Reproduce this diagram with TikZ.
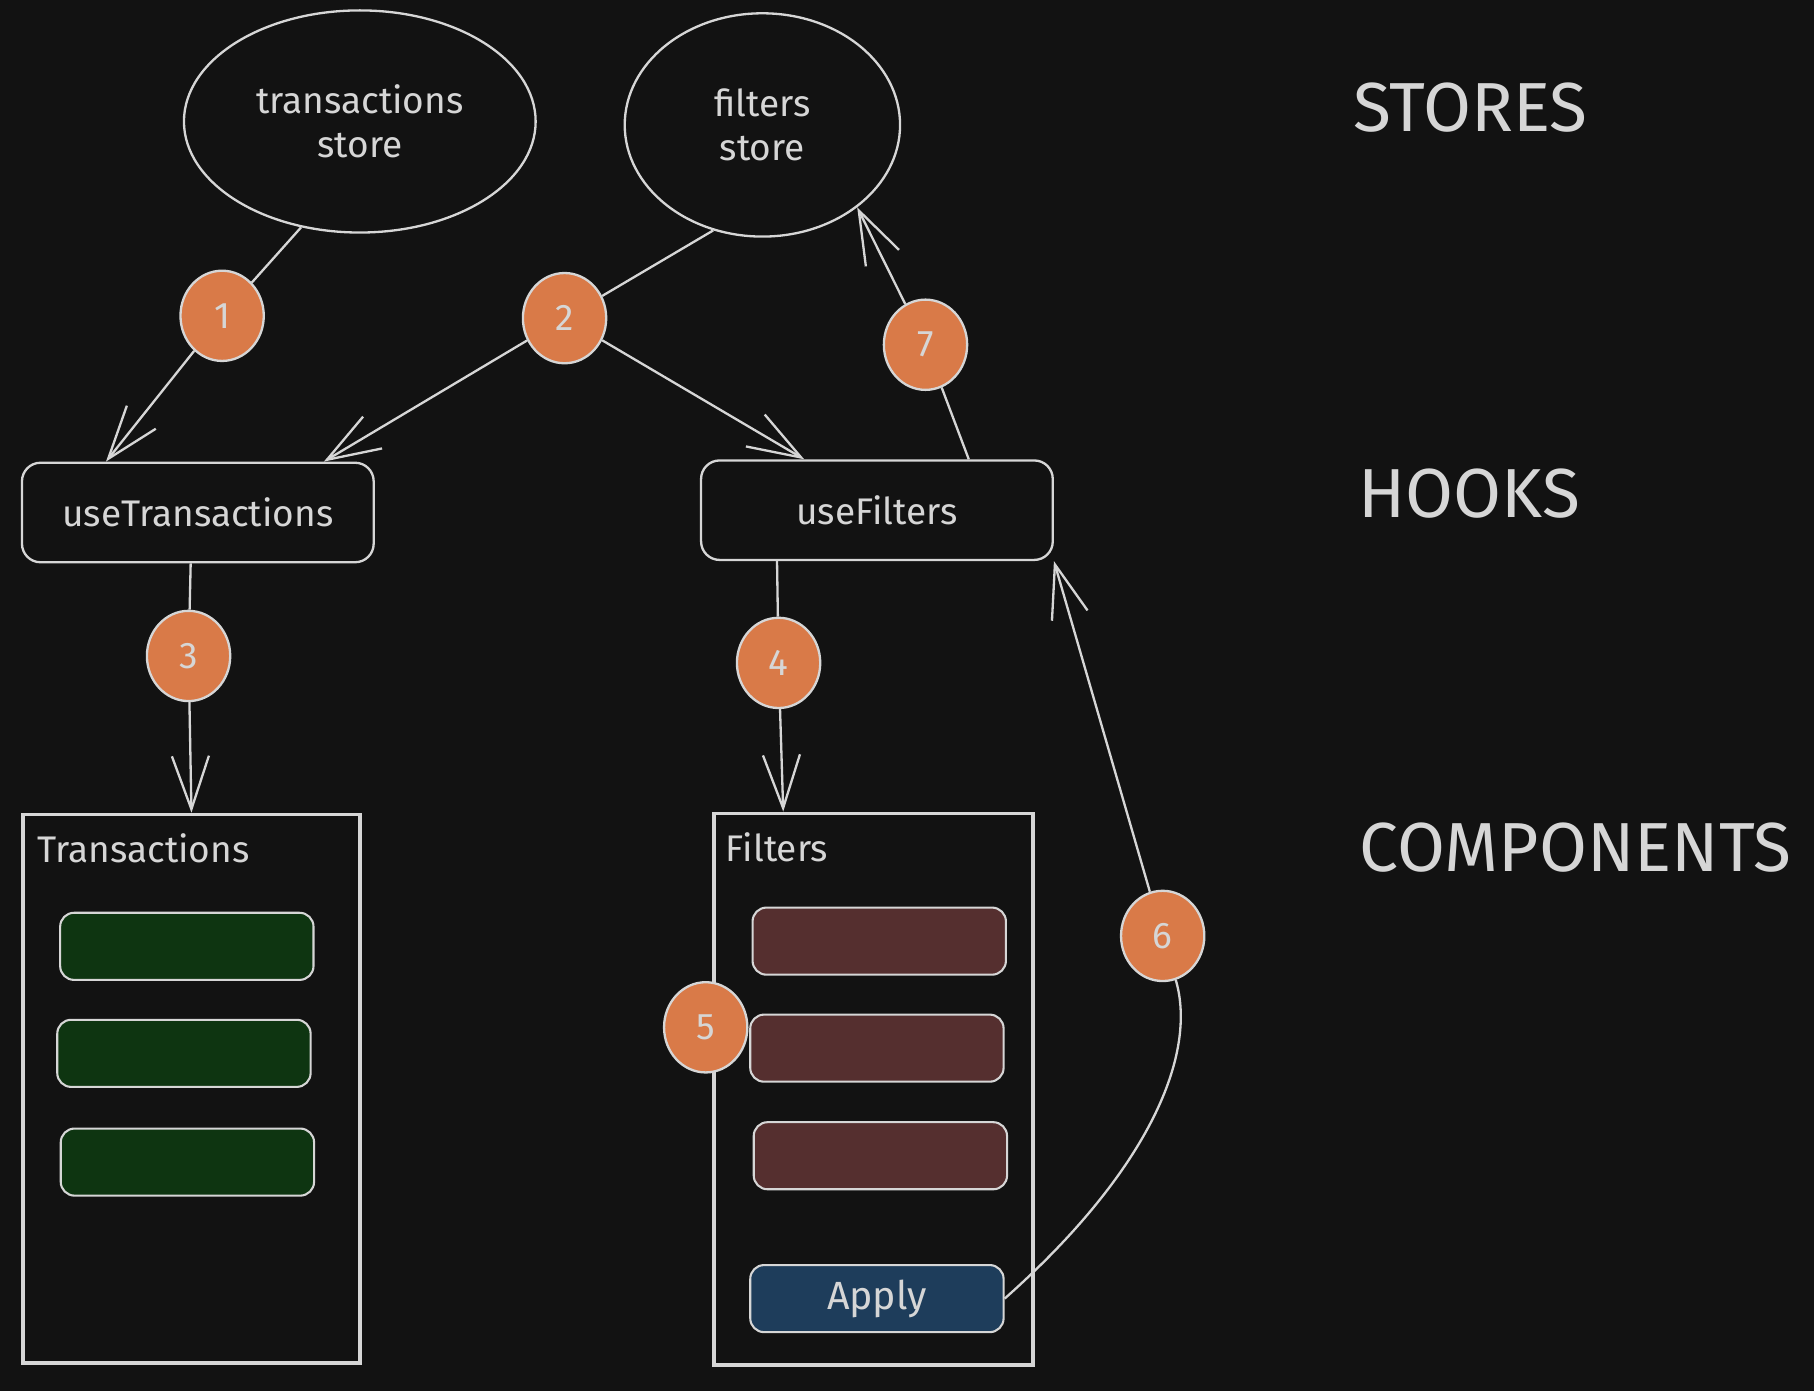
\documentclass[tikz,border=0pt]{standalone}
\usepackage{fontspec}
\setmainfont{Fira Sans}
\usetikzlibrary{shapes.geometric,arrows.meta}
\definecolor{bg}{HTML}{121212}
\definecolor{ink}{HTML}{D6D6D6}
\definecolor{badgefill}{HTML}{D97A48}
\definecolor{greenbar}{HTML}{0E3511}
\definecolor{brownbar}{HTML}{552F2F}
\definecolor{bluebar}{HTML}{1E3D5B}
\tikzset{
  store/.style={ellipse, draw=ink, line width=1pt, fill=bg, text=ink, align=center, font=\fontsize{16}{19}\selectfont, inner sep=0pt},
  hook/.style={rectangle, rounded corners=8pt, draw=ink, line width=1pt, fill=bg, text=ink, minimum width=152pt, minimum height=43pt, font=\fontsize{16}{19}\selectfont},
  comp/.style={rectangle, draw=ink, line width=1.5pt, fill=bg},
  bar/.style={rectangle, rounded corners=6pt, draw=ink, line width=0.9pt, minimum width=109.5pt, minimum height=29pt},
  badge/.style={ellipse, draw=ink, line width=1pt, fill=badgefill, text=ink, minimum width=36pt, minimum height=39pt, inner sep=0pt, font=\fontsize{16}{18}\selectfont},
  layer/.style={text=ink, font=\fontsize{30}{33}\selectfont},
  title/.style={text=ink, anchor=west, inner sep=0pt, font=\fontsize{16}{19}\selectfont},
  link/.style={draw=ink, line width=1pt},
  arr/.style={draw=ink, line width=1pt, -{Straight Barb[length=23pt,width=16pt]}}
}
\begin{document}
\begin{tikzpicture}[x=0.5pt,y=-0.5pt]
\useasboundingbox (0,0) rectangle (1568,1202.4);
\fill[bg] (0,0) rectangle (1568,1202.4);

% stores
\node[store, minimum width=152pt, minimum height=96pt] (tstore) at (311,105) {transactions\\store};
\node[store, minimum width=119pt, minimum height=96.5pt] (fstore) at (659,108) {filters\\store};

% layer labels
\node[layer] (lstores) at (1271,93) {STORES};
\node[layer] (lhooks) at (1270,427) {HOOKS};
\node[layer] (lcomps) at (1362,733) {COMPONENTS};

% hooks
\node[hook] (useT) at (171,443) {useTransactions};
\node[hook] (useF) at (758,441) {useFilters};

% component boxes
\node[comp, minimum width=145.5pt, minimum height=237pt] (tbox) at (165.5,941) {};
\node[title] (ttitle) at (32,733) {Transactions};
\node[comp, minimum width=138pt, minimum height=238.5pt] (fbox) at (755,941.5) {};
\node[title] (ftitle) at (627,732) {Filters};

% bars
\node[bar, fill=greenbar] (g1) at (161.5,818) {};
\node[bar, fill=greenbar] (g2) at (159,910.5) {};
\node[bar, fill=greenbar] (g3) at (162,1004.5) {};
\node[bar, fill=brownbar] (r1) at (760,813.5) {};
\node[bar, fill=brownbar] (r2) at (758,906) {};
\node[bar, fill=brownbar] (r3) at (761,999) {};
\node[bar, fill=bluebar, text=ink, font=\fontsize{17}{20}\selectfont] (apply) at (758,1122.5) {Apply};

% badges
\node[badge] (b1) at (192,273) {1};
\node[badge] (b2) at (488,275) {2};
\node[badge] (b3) at (163,567) {3};
\node[badge] (b4) at (673,573) {4};
\node[badge] (b5) at (610,888) {5};
\node[badge] (b6) at (1005,809) {6};
\node[badge] (b7) at (800,298) {7};

% connectors
\draw[link] (tstore.241) -- (b1);
\draw[arr] (b1) -- (useT.151.7);
\draw[link] (fstore.245) -- (b2);
\draw[arr] (b2) -- (useT.22);
\draw[arr] (b2) -- (useF.145);
\draw[link] (useF.29) -- (b7);
\draw[arr] (b7) -- (fstore.319.3);
\draw[link] (useT.262) -- (b3);
\draw[arr] (b3) -- (tbox.north);
\draw[link] (useF.207) -- (b4);
\draw[arr] (b4) -- (fbox.108.5);
\draw[link] (apply.east) .. controls (995,1010) and (1035,910) .. (b6);
\draw[arr] (b6) -- (useF.south east);
\end{tikzpicture}
\end{document}
